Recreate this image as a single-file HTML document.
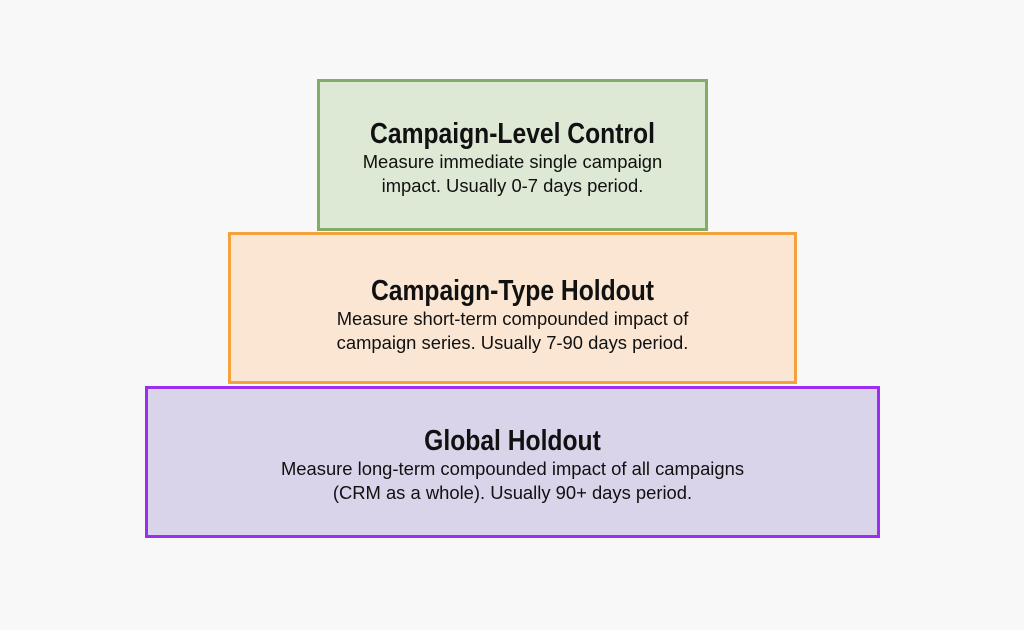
<!DOCTYPE html>
<html><head><style>
body{margin:0;width:1024px;height:630px;background:#f8f8f8;position:relative;font-family:"Liberation Sans",sans-serif;overflow:hidden}
.b{position:absolute;box-sizing:border-box;border:3px solid;text-align:center;color:#111}
.t{position:absolute;left:0;right:0;font-family:"Liberation Sans",sans-serif;font-weight:bold;font-size:29px;line-height:30px;transform:scaleX(0.85)}
.d{position:absolute;left:-30px;right:-30px;font-size:18.4px;line-height:24px;white-space:nowrap}
</style></head><body>
<div class="b" style="left:317px;top:79px;width:391px;height:152px;background:#dde8d5;border-color:#82ad66">
<div class="t" style="top:37px">Campaign-Level Control</div>
<div class="d" style="top:68px">Measure immediate single campaign<br>impact. Usually 0-7 days period.</div></div>
<div class="b" style="left:228px;top:232px;width:569px;height:152px;background:#fae6d2;border-color:#f4a23c">
<div class="t" style="top:41px">Campaign-Type Holdout</div>
<div class="d" style="top:72px">Measure short-term compounded impact of<br>campaign series. Usually 7-90 days period.</div></div>
<div class="b" style="left:145px;top:386px;width:735px;height:152px;background:#d9d4e9;border-color:#9a2ff2">
<div class="t" style="top:37px">Global Holdout</div>
<div class="d" style="top:68px">Measure long-term compounded impact of all campaigns<br>(CRM as a whole). Usually 90+ days period.</div></div>
</body></html>
